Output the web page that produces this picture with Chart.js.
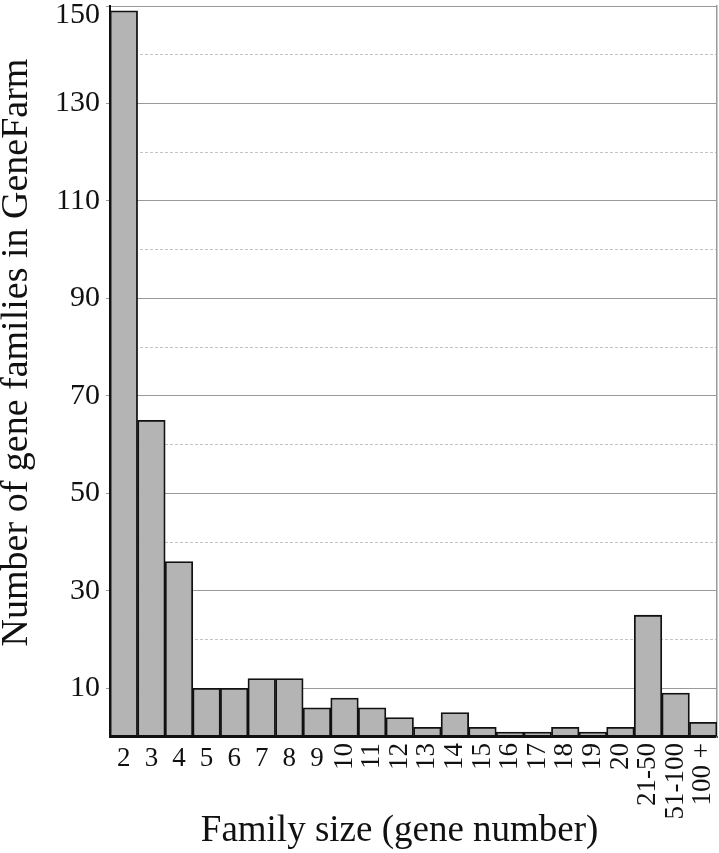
<!DOCTYPE html>
<html>
<head>
<meta charset="utf-8">
<script src="https://cdn.jsdelivr.net/npm/chart.js@4/dist/chart.umd.min.js"></script>
<style>
  html, body { margin: 0; padding: 0; background: #fff; }
  #wrap { width: 719px; height: 853px; position: relative; }
</style>
</head>
<body>
<div id="wrap"><canvas id="chart"></canvas></div>
<script>
const sizes = ['2', '3', '4', '5', '6', '7', '8', '9', '10', '11', '12', '13', '14', '15', '16', '17', '18', '19', '20', '21-50', '51-100', '100 +'];
const families = [149, 65, 36, 10, 10, 12, 12, 6, 8, 6, 4, 2, 5, 2, 1, 1, 2, 1, 2, 25, 9, 3];
const yMax = 150;

const serif = '"Liberation Serif", "Times New Roman", serif';

// x labels: short ones flat, long ones turned up
const xLabels = {
  id: 'xLabels',
  afterDraw(chart) {
    const x = chart.scales.x;
    const ctx = chart.ctx;
    ctx.save();
    ctx.fillStyle = '#111';
    ctx.font = '27px ' + serif;
    sizes.forEach((lab, i) => {
      const px = x.getPixelForValue(i);
      const top = x.top + 6;
      if (lab.length < 2) {
        ctx.textAlign = 'center';
        ctx.textBaseline = 'top';
        ctx.fillText(lab, px, top + 2);
      } else {
        ctx.save();
        ctx.translate(px, top);
        ctx.rotate(-Math.PI / 2);
        ctx.textAlign = 'right';
        ctx.textBaseline = 'middle';
        ctx.fillText(lab, 0, 0);
        ctx.restore();
      }
    });
    ctx.restore();
  }
};

const odd = (v) => v % 20 === 10;

new Chart(document.getElementById('chart'), {
  type: 'bar',
  data: {
    labels: sizes,
    datasets: [{
      data: families,
      backgroundColor: '#b4b4b4',
      borderColor: '#111',
      borderWidth: 1.8,
      borderSkipped: false,
      barPercentage: 1,
      categoryPercentage: 1
    }]
  },
  options: {
    responsive: true,
    maintainAspectRatio: false,
    animation: false,
    layout: { padding: { top: 6, right: 2, bottom: 0, left: 0 } },
    plugins: { legend: { display: false }, tooltip: { enabled: false } },
    scales: {
      x: {
        grid: { display: false },
        border: { display: true, color: '#111', width: 2 },
        ticks: { display: false },
        title: {
          display: true,
          text: 'Family size (gene number)   ',
          color: '#111',
          font: { family: serif, size: 37, lineHeight: 1.2 },
          padding: { top: 0, bottom: 0 }
        },
        afterFit(s) { s.height = 116; s.paddingLeft = 0; s.paddingRight = 0; }
      },
      y: {
        min: 0,
        max: yMax,
        ticks: {
          stepSize: 10,
          padding: 6,
          color: '#111',
          font: { family: serif, size: 30, lineHeight: 0.6 },
          callback: (v) => v === yMax ? ['', String(v)] : (odd(v) ? String(v) : '')
        },
        grid: {
          color: (c) => c.tick && odd(c.tick.value) ? '#9a9a9a' : 'rgba(0,0,0,0)',
          tickColor: (c) => c.tick && odd(c.tick.value) ? '#9a9a9a' : 'rgba(0,0,0,0)',
          tickLength: 4,
          lineWidth: 1
        },
        border: { display: true, color: '#111', width: 2 },
        title: {
          display: true,
          text: '    Number of gene families in GeneFarm',
          color: '#111',
          font: { family: serif, size: 38, lineHeight: 0.9 },
          padding: 0
        },
        afterFit(s) { s.width = 110; s.paddingTop = 0; s.paddingBottom = 0; }
      },
      y2: {
        position: 'right',
        min: 0,
        max: yMax,
        ticks: { display: false, stepSize: 20 },
        grid: {
          drawTicks: false,
          color: (c) => c.tick && c.tick.value > 0 && c.tick.value < yMax ? '#c4c4c4' : 'rgba(0,0,0,0)',
          lineWidth: 1
        },
        border: { display: true, color: '#9a9a9a', width: 1.5, dash: [3, 2] },
        afterFit(s) { s.width = 0; s.paddingTop = 0; s.paddingBottom = 0; }
      }
    }
  },
  plugins: [xLabels]
});
</script>
</body>
</html>
